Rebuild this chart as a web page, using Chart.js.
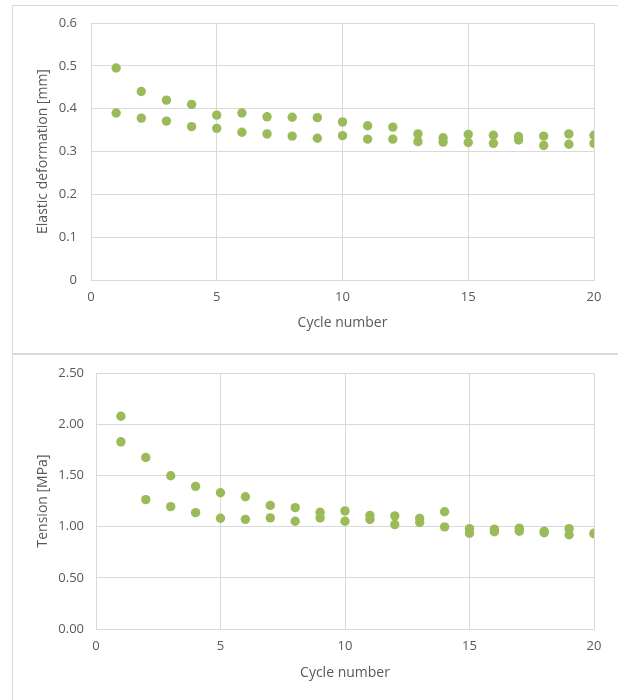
<!DOCTYPE html>
<html>
<head>
<meta charset="utf-8">
<script src="https://cdn.jsdelivr.net/npm/chart.js@4/dist/chart.umd.min.js"></script>
<style>
  html, body { margin: 0; padding: 0; background: #ffffff; }
  body { width: 618px; height: 700px; position: relative; overflow: hidden; }
  .frame { position: absolute; box-sizing: border-box; }
  #f1 { left: 12px; top: 5px; width: 620px; height: 352px; border-left: 1px solid #d9d9d9; border-top: 1px solid #d9d9d9; }
  #sep { left: 12px; top: 353px; width: 606px; height: 2px; background: #d9d9d9; }
  #f2 { left: 12px; top: 355px; width: 620px; height: 350px; border-left: 1px solid #d9d9d9; }
  .cv { position: absolute; left: 0; width: 618px; height: 350px; }
  #c1 { top: 0; }
  #c2 { top: 350px; }
</style>
</head>
<body>
<div class="frame" id="f1"></div>
<div class="frame" id="sep"></div>
<div class="frame" id="f2"></div>
<div class="cv" id="c1"><canvas id="chart1" width="618" height="350"></canvas></div>
<div class="cv" id="c2"><canvas id="chart2" width="618" height="350"></canvas></div>
<script>
// ---- Data ----
const cycles = [1,2,3,4,5,6,7,8,9,10,11,12,13,14,15,16,17,18,19,20];
const deformationUpper = [0.495,0.440,0.420,0.410,0.385,0.390,0.381,0.380,0.379,0.369,0.360,0.357,0.341,0.332,0.340,0.338,0.335,0.336,0.341,0.338];
const deformationLower = [0.390,0.378,0.371,0.358,0.354,0.345,0.341,0.336,0.331,0.337,0.329,0.329,0.323,0.322,0.321,0.319,0.327,0.314,0.317,0.319];
const tensionUpper = [2.078,1.675,1.497,1.393,1.331,1.292,1.207,1.185,1.140,1.153,1.110,1.105,1.080,1.145,0.980,0.975,0.985,0.955,0.980,0.935];
const tensionLower = [1.828,1.263,1.195,1.136,1.082,1.071,1.085,1.052,1.085,1.052,1.070,1.020,1.040,0.997,0.935,0.950,0.955,0.940,0.920,0.930];
const xTicks = [0,5,10,15,20];
const deformationTicks = [0,0.1,0.2,0.3,0.4,0.5,0.6];
const tensionTicks = [0,0.5,1.0,1.5,2.0,2.5];
const xTitle = 'Cycle number';
const deformationTitle = 'Elastic deformation [mm]';
const tensionTitle = 'Tension [MPa]';

const GREEN = '#9bbb59';
const GRID = '#d9d9d9';
const TEXT = '#595959';
const FONT = '"Open Sans", "DejaVu Sans", sans-serif';

function pts(ys) { return cycles.map((c, i) => ({ x: c, y: ys[i] })); }

function makeChart(id, seriesA, seriesB, yTicks, yTitle, yFmt, yWidth, xHeight, yTickPad) {
  const ds = (d) => ({
    data: pts(d),
    backgroundColor: GREEN,
    borderColor: GREEN,
    borderWidth: 0,
    pointRadius: 4.7,
    pointHoverRadius: 4.7,
    showLine: false
  });
  return new Chart(document.getElementById(id), {
    type: 'scatter',
    data: { datasets: [ds(seriesA), ds(seriesB)] },
    options: {
      responsive: false,
      animation: false,
      events: [],
      layout: { padding: { top: 23, right: 24, left: 30, bottom: 15 } },
      plugins: { legend: { display: false }, tooltip: { enabled: false } },
      scales: {
        x: {
          type: 'linear',
          min: xTicks[0], max: xTicks[xTicks.length - 1],
          afterBuildTicks: (s) => { s.ticks = xTicks.map(v => ({ value: v })); },
          afterFit: (s) => { s.height = xHeight; },
          ticks: { color: TEXT, font: { family: FONT, size: 13 }, padding: 9, callback: (v) => String(v) },
          grid: { color: GRID, lineWidth: 1, drawTicks: false },
          border: { color: GRID, width: 1 },
          title: { display: true, text: xTitle, color: TEXT, font: { family: FONT, size: 14 }, padding: { top: 0, bottom: 4 } }
        },
        y: {
          type: 'linear',
          min: yTicks[0], max: yTicks[yTicks.length - 1],
          afterBuildTicks: (s) => { s.ticks = yTicks.map(v => ({ value: v })); },
          afterFit: (s) => { s.width = yWidth; },
          ticks: { color: TEXT, font: { family: FONT, size: 13 }, padding: yTickPad, callback: yFmt },
          grid: { color: GRID, lineWidth: 1, drawTicks: false },
          border: { color: GRID, width: 1 },
          title: { display: true, text: yTitle, color: TEXT, font: { family: FONT, size: 14 }, padding: { top: 5, bottom: 0 } }
        }
      }
    }
  });
}

makeChart('chart1', deformationUpper, deformationLower, deformationTicks, deformationTitle,
  (v) => v === 0 ? '0' : v.toFixed(1), 61, 55, 14);
makeChart('chart2', tensionUpper, tensionLower, tensionTicks, tensionTitle,
  (v) => v.toFixed(2), 66, 56, 12);
</script>
</body>
</html>
